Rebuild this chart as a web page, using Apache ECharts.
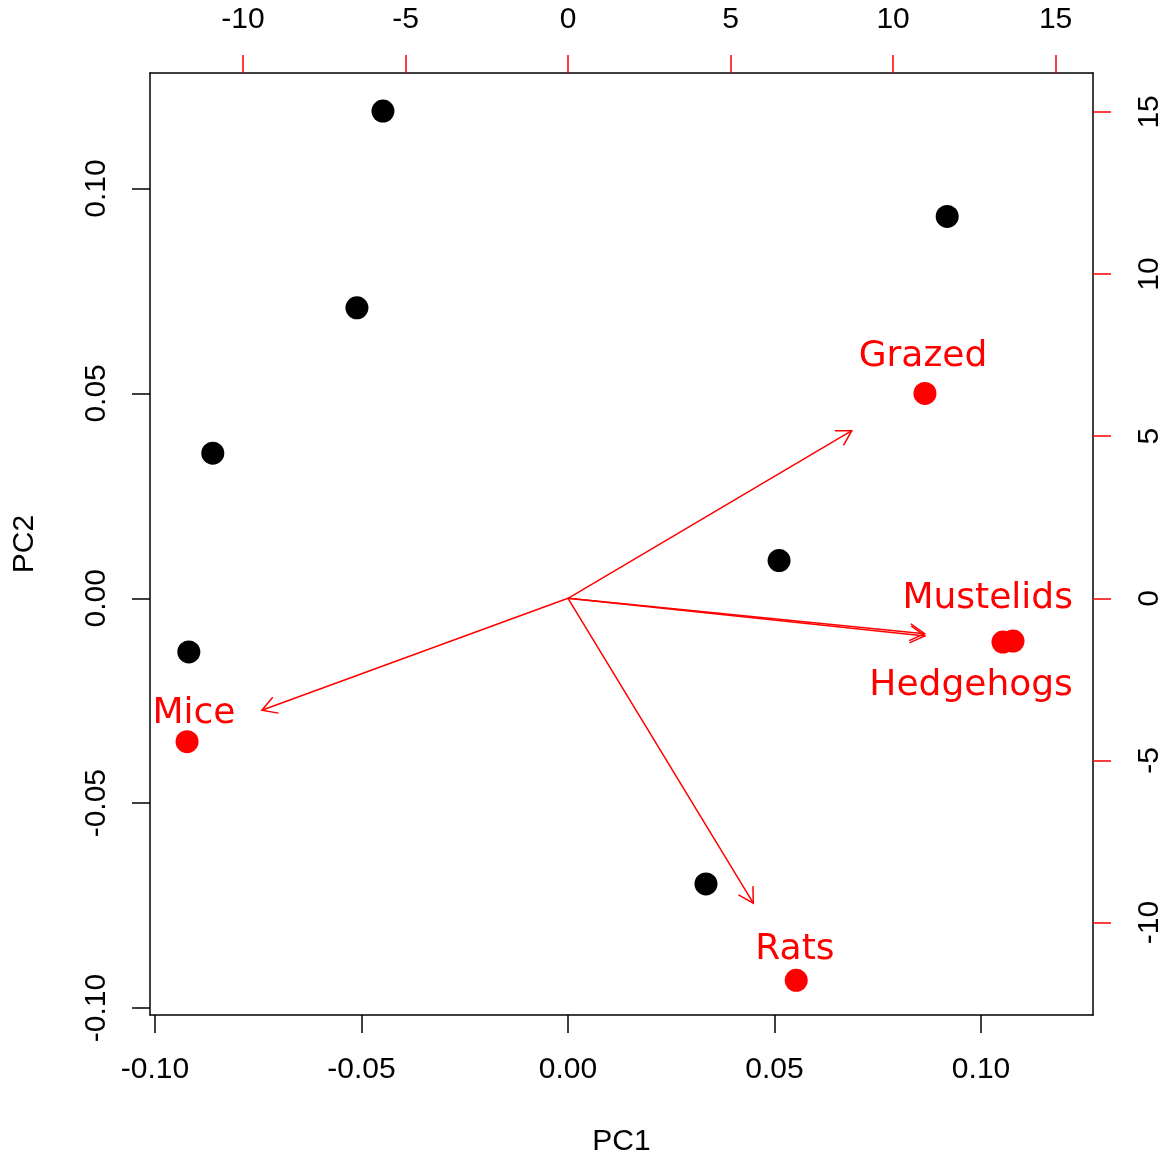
<!DOCTYPE html>
<html><head><meta charset="utf-8">
<script src="https://cdn.jsdelivr.net/npm/echarts@6/dist/echarts.min.js"></script>
<style>html,body{margin:0;padding:0;background:#fff;overflow:hidden}#c{width:100vw;height:100vh}</style>
</head><body><div id="c"></div>
<script>
// Sample scores (primary axes, PC1/PC2)
const scoreX = [-0.0448, 0.0918, -0.0511, -0.0860, 0.0511, -0.0918, 0.0334];
const scoreY = [0.1189, 0.0932, 0.0709, 0.0354, 0.0092, -0.0131, -0.0697];
// Variable loadings (secondary axes)
const varNames = ['Grazed', 'Mustelids', 'Hedgehogs', 'Mice', 'Rats'];
const arrowX = [8.73, 10.97, 10.98, -9.42, 5.70];
const arrowY = [5.17, -1.09, -1.16, -3.45, -9.40];
const pointX = [10.98, 13.38, 13.69, -11.72, 7.02];
const pointY = [6.32, -1.35, -1.32, -4.42, -11.78];
const labelX = [10.92, 12.91, 12.40, -11.51, 6.98];
const labelY = [7.45, -0.01, -2.68, -3.56, -10.82];
// Tick labels
const primaryTicks = [-0.10, -0.05, 0.00, 0.05, 0.10];
const secondaryTicks = [-10, -5, 0, 5, 10, 15];

const RED = '#FF0000';
const FONT = 'Liberation Sans, Arial, sans-serif';
const LFONT = 'DejaVu Sans, sans-serif';

function axisBase(pos, min, max, ticks, tickColor, fmt, rotate, margin) {
  return {
    type: 'value', position: pos, min: min, max: max,
    axisLine: { show: true, onZero: false, lineStyle: { color: '#000', width: 1.5 } },
    axisTick: { show: true, inside: false, length: 18, customValues: ticks, lineStyle: { color: tickColor, width: 1.5 } },
    axisLabel: { show: true, customValues: ticks, formatter: fmt, rotate: rotate, margin: margin,
      color: '#000', fontSize: 30, fontFamily: FONT, showMinLabel: true, showMaxLabel: true, hideOverlap: false },
    splitLine: { show: false }
  };
}

const xBottom = axisBase('bottom', -0.1012, 0.1271, primaryTicks, '#000', v => v.toFixed(2), 0, 40);
xBottom.name = 'PC1'; xBottom.nameLocation = 'middle'; xBottom.nameGap = 112;
xBottom.nameTextStyle = { fontSize: 30, fontFamily: FONT, color: '#000' };
const xTop = axisBase('top', -12.86, 16.15, secondaryTicks, RED, v => String(v), 0, 38);
const yLeft = axisBase('left', -0.1017, 0.1282, primaryTicks, '#000', v => v.toFixed(2), 90, 38);
yLeft.name = 'PC2'; yLeft.nameLocation = 'middle'; yLeft.nameGap = 110;
yLeft.nameTextStyle = { fontSize: 30, fontFamily: FONT, color: '#000' };
const yRight = axisBase('right', -12.85, 16.2, secondaryTicks, RED, v => String(v), 90, 42);

const chart = echarts.init(document.getElementById('c'), null, { renderer: 'canvas' });
chart.setOption({
  animation: false,
  backgroundColor: '#fff',
  grid: { left: (150 / 1168 * 100) + '%', top: (73 / 1162 * 100) + '%', right: (75 / 1168 * 100) + '%', bottom: (136 / 1162 * 100) + '%', containLabel: false },
  xAxis: [xBottom, xTop],
  yAxis: [yLeft, yRight],
  series: [
    {
      type: 'scatter', xAxisIndex: 0, yAxisIndex: 0,
      symbol: 'circle', symbolSize: 23,
      itemStyle: { color: '#000', opacity: 1 },
      data: scoreX.map((x, i) => [x, scoreY[i]])
    },
    {
      type: 'custom', xAxisIndex: 1, yAxisIndex: 1,
      data: arrowX.map((x, i) => [x, arrowY[i]]),
      renderItem: function (params, api) {
        const s = api.coord([0, 0]);
        const e = api.coord([api.value(0), api.value(1)]);
        const ang = Math.atan2(e[1] - s[1], e[0] - s[0]);
        const L = 17, a = Math.PI / 6;
        const p1 = [e[0] - L * Math.cos(ang - a), e[1] - L * Math.sin(ang - a)];
        const p2 = [e[0] - L * Math.cos(ang + a), e[1] - L * Math.sin(ang + a)];
        return {
          type: 'group',
          children: [
            { type: 'line', shape: { x1: s[0], y1: s[1], x2: e[0], y2: e[1] }, style: { stroke: RED, lineWidth: 1.5 } },
            { type: 'polyline', shape: { points: [p1, e, p2] }, style: { stroke: RED, lineWidth: 1.5, fill: null } }
          ]
        };
      }
    },
    {
      type: 'scatter', xAxisIndex: 1, yAxisIndex: 1,
      symbol: 'circle', symbolSize: 23,
      itemStyle: { color: RED, opacity: 1 },
      data: pointX.map((x, i) => [x, pointY[i]])
    },
    {
      type: 'custom', xAxisIndex: 1, yAxisIndex: 1,
      data: labelX.map((x, i) => [x, labelY[i], varNames[i]]),
      renderItem: function (params, api) {
        const p = api.coord([api.value(0), api.value(1)]);
        return {
          type: 'text', x: p[0], y: p[1],
          style: { text: varNames[params.dataIndex], fill: RED, font: '36px ' + LFONT, align: 'center', verticalAlign: 'middle' }
        };
      }
    }
  ]
});
window.addEventListener('resize', () => chart.resize());
</script></body></html>
